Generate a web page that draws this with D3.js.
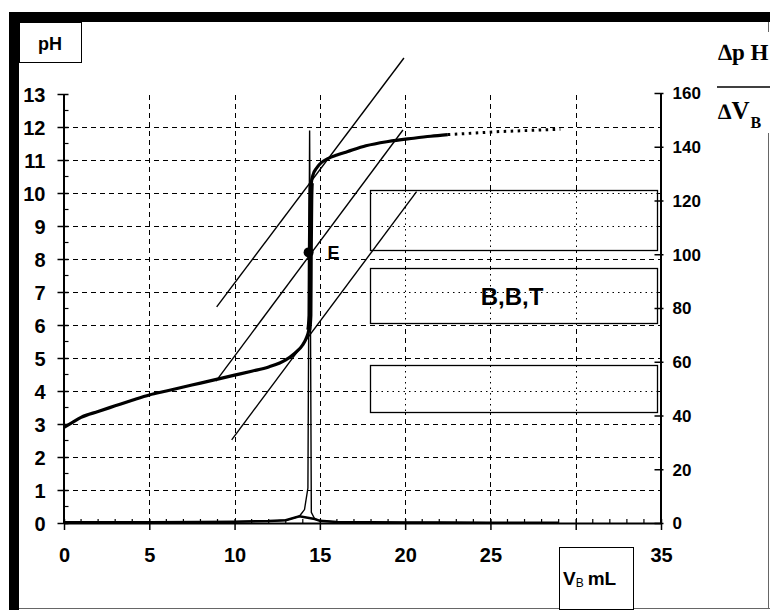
<!DOCTYPE html>
<html><head><meta charset="utf-8">
<script src="https://cdn.jsdelivr.net/npm/d3@7"></script>
<style>body{margin:0;background:#fff} svg{display:block}</style>
</head><body>
<script>
// ---------- data ----------
const volumes = [0,0.5,1,2,3,4,5,6,7,8,9,10,11,12,13,13.5,14,14.2,14.35,14.42,14.44,14.47,14.5,14.6,14.8,15,15.5,16,16.6,17.7,19,20.5,21.5,22.5,23.5,24.5,25.5,26.5,27.5,28.5,29.1];
const phValues = [2.9,3.05,3.2,3.38,3.55,3.72,3.88,4.0,4.12,4.24,4.36,4.48,4.6,4.73,4.94,5.13,5.4,5.6,5.85,6.3,8.2,9.8,10.3,10.55,10.75,10.88,11.05,11.15,11.25,11.43,11.56,11.66,11.72,11.77,11.8,11.83,11.86,11.88,11.9,11.92,11.93];
const derivVolumes = [0,2,5,8,10,12,13,13.8,14.1,14.3,14.4,14.5,14.7,15,16,18,20,22,25,29];
const derivValues  = [0.3,0.3,0.3,0.4,0.5,0.7,1.0,2.5,5,13,146,4,1.5,0.8,0.4,0.3,0.2,0.2,0.1,0.1];
const tangentLines = [
  [[8.95,6.55],[19.93,14.09]],
  [[8.91,4.30],[19.87,11.91]],
  [[9.83,2.52],[20.67,10.04]]
];
const equivalencePoint = [14.4, 8.2];
const equivalenceLabel = "E";
const xTickValues = [0,5,10,15,20,25,30,35];
const xGridValues = [5,10,15,20,25,30];
const phTickValues = [0,1,2,3,4,5,6,7,8,9,10,11,12,13];
const phGridValues = [1,2,3,4,5,6,7,8,9,10,11,12];
const derivTickValues = [0,20,40,60,80,100,120,140,160];
// annotation boxes in data units: [v0, v1, phTop, phBottom]
const boxRanges = [[17.95,34.75,10.09,8.27],[17.95,34.75,7.72,6.05],[17.95,34.75,4.79,3.37]];
const boxLabels = ["", "B,B,T", ""];

// ---------- layout ----------
const W = 770, H = 610;
const svg = d3.select("body").append("svg").attr("width", W).attr("height", H);
const x = d3.scaleLinear().domain([0,35]).range([64,661]);
const y = d3.scaleLinear().domain([0,13]).range([523,94]);
const y2 = d3.scaleLinear().domain([0,160]).range([523,93]);
const numFont = "'Liberation Sans', Arial, sans-serif";

// frame
svg.append("rect").attr("x",9).attr("y",12).attr("width",761).attr("height",10).attr("fill","#000");
svg.append("rect").attr("x",9).attr("y",12).attr("width",10).attr("height",598).attr("fill","#000");
svg.append("line").attr("x1",19).attr("x2",770).attr("y1",608.5).attr("y2",608.5).attr("stroke","#666");
svg.append("line").attr("x1",768.5).attr("x2",768.5).attr("y1",22).attr("y2",608).attr("stroke","#666");

// grid
const dash = "5,4";
const grid = svg.append("g").attr("stroke","#000").attr("stroke-width",1).attr("stroke-dasharray",dash);
grid.selectAll(".h").data(phGridValues).join("line")
  .attr("x1",x(0)).attr("x2",x(35)).attr("y1",d=>Math.round(y(d))+0.5).attr("y2",d=>Math.round(y(d))+0.5);
grid.selectAll(".v").data(xGridValues).join("line")
  .attr("y1",y(0)).attr("y2",y(13)).attr("x1",d=>Math.round(x(d))+0.5).attr("x2",d=>Math.round(x(d))+0.5);

// boxes
boxRanges.forEach((b,i)=>{
  const bx = Math.round(x(b[0]))+0.5, bx2 = Math.round(x(b[1]))+0.5;
  const by = Math.round(y(b[2]))+0.5, by2 = Math.round(y(b[3]))+0.5;
  const g = svg.append("g");
  g.append("rect").attr("x",bx).attr("y",by).attr("width",bx2-bx).attr("height",by2-by).attr("fill","#fff");
  const cid = "clip"+i;
  svg.append("clipPath").attr("id",cid).append("rect").attr("x",bx).attr("y",by).attr("width",bx2-bx).attr("height",by2-by);
  const dg = g.append("g").attr("clip-path",`url(#${cid})`).attr("stroke","#000").attr("stroke-width",1).attr("stroke-dasharray","1.5,4");
  dg.selectAll("line.h").data(phGridValues.filter(d=>d<=b[2]&&d>=b[3])).join("line")
    .attr("x1",bx).attr("x2",bx2).attr("y1",d=>Math.round(y(d))+0.5).attr("y2",d=>Math.round(y(d))+0.5);
  dg.selectAll("line.v").data(xGridValues.filter(d=>d>=b[0]&&d<=b[1])).join("line")
    .attr("y1",by).attr("y2",by2).attr("x1",d=>Math.round(x(d))+0.5).attr("x2",d=>Math.round(x(d))+0.5);
  g.append("rect").attr("x",bx).attr("y",by).attr("width",bx2-bx).attr("height",by2-by)
    .attr("fill","none").attr("stroke","#000").attr("stroke-width",1.3);
  if (boxLabels[i]) {
    g.append("text").attr("x",512).attr("y",(by+by2)/2+9).attr("text-anchor","middle")
      .attr("font-family",numFont).attr("font-weight","bold").attr("font-size",24).text(boxLabels[i]);
  }
});

// tangent lines
svg.append("g").selectAll("line").data(tangentLines).join("line")
  .attr("x1",d=>x(d[0][0])).attr("y1",d=>y(d[0][1])).attr("x2",d=>x(d[1][0])).attr("y2",d=>y(d[1][1]))
  .attr("stroke","#000").attr("stroke-width",1.4);

// derivative curve
const derivPts = derivVolumes.map((v,i)=>[v,derivValues[i]]);
svg.append("path").datum(derivPts)
  .attr("d", d3.line().x(d=>x(d[0])).y(d=>y2(d[1])))
  .attr("fill","none").attr("stroke","#000").attr("stroke-width",1.4);
svg.append("path").datum(derivPts.filter(d=>d[1]<3))
  .attr("d", d3.line().x(d=>x(d[0])).y(d=>y2(d[1])))
  .attr("fill","none").attr("stroke","#000").attr("stroke-width",2.5);

// pH curve
const phPts = volumes.map((v,i)=>[v,phValues[i]]);
const line = d3.line().x(d=>x(d[0])).y(d=>y(d[1])).curve(d3.curveMonotoneX);
svg.append("path").datum(phPts.filter(d=>d[0]<=22.5)).attr("d",line)
  .attr("fill","none").attr("stroke","#000").attr("stroke-width",3.2).attr("stroke-linejoin","round");
svg.append("path").datum(phPts.filter(d=>d[0]>=14.35&&d[0]<=14.5)).attr("d",line)
  .attr("fill","none").attr("stroke","#000").attr("stroke-width",5);
svg.append("path").datum(phPts.filter(d=>d[0]>=22.5)).attr("d",line)
  .attr("fill","none").attr("stroke","#000").attr("stroke-width",3).attr("stroke-dasharray","2.5,4.5");

// axes
const axL = svg.append("g").attr("transform",`translate(${x(0)-0.5},0)`)
  .call(d3.axisLeft(y).tickValues(phTickValues).tickSize(6).tickSizeOuter(0).tickPadding(12));
axL.select(".domain").attr("stroke-width",2);
axL.selectAll(".tick line").attr("x1",5).attr("x2",-6).attr("stroke-width",1.5);
axL.selectAll(".tick text").attr("x",-18).attr("font-family",numFont).attr("font-weight","bold").attr("font-size",20).attr("dy","0.35em");
axL.selectAll(".minor").data(d3.range(0.5,13,1)).join("line").attr("class","minor")
  .attr("x1",0).attr("x2",5).attr("y1",d=>y(d)).attr("y2",d=>y(d)).attr("stroke","#000").attr("stroke-width",1.2);

const axB = svg.append("g").attr("transform",`translate(0,${y(0)})`)
  .call(d3.axisBottom(x).tickValues(xTickValues).tickSize(7).tickSizeOuter(0));
axB.select(".domain").attr("stroke-width",2);
axB.selectAll(".tick line").attr("y1",-4).attr("y2",7).attr("stroke-width",1.5);
axB.selectAll(".tick text").attr("y",25).attr("dy","0.72em").attr("font-family",numFont).attr("font-weight","bold").attr("font-size",20);
axB.selectAll(".minor").data(d3.range(1,35).filter(d=>d%5)).join("line").attr("class","minor")
  .attr("x1",d=>x(d)).attr("x2",d=>x(d)).attr("y1",-4).attr("y2",0).attr("stroke","#000").attr("stroke-width",1.2);

const axR = svg.append("g").attr("transform",`translate(${x(35)-0.5},0)`)
  .call(d3.axisRight(y2).tickValues(derivTickValues).tickSize(3).tickSizeOuter(0).tickPadding(9));
axR.select(".domain").attr("stroke-width",2);
axR.selectAll(".tick line").attr("x1",-6).attr("x2",3).attr("stroke-width",1.5);
axR.selectAll(".tick text").attr("x",12).attr("font-family",numFont).attr("font-weight","bold").attr("font-size",17).attr("dy","0.35em");

svg.selectAll(".tick text").attr("fill","#000");
svg.selectAll(".domain, .tick line").attr("stroke","#000");

// equivalence point
svg.append("circle").attr("cx",x(equivalencePoint[0])-1).attr("cy",y(equivalencePoint[1])).attr("r",5).attr("fill","#000");
svg.append("text").attr("x",x(equivalencePoint[0])+18).attr("y",y(equivalencePoint[1])+7)
  .attr("font-family",numFont).attr("font-weight","bold").attr("font-size",18).text(equivalenceLabel);

// pH label box
svg.append("rect").attr("x",19.5).attr("y",22.5).attr("width",62).attr("height",40).attr("fill","#fff").attr("stroke","#000");
svg.append("text").attr("x",50).attr("y",50).attr("text-anchor","middle")
  .attr("font-family",numFont).attr("font-weight","bold").attr("font-size",18).text("pH");

// V_B mL box
svg.append("rect").attr("x",559.5).attr("y",547.5).attr("width",74).attr("height",62).attr("fill","#fff").attr("stroke","#000");
const vt = svg.append("text").attr("x",563).attr("y",585).attr("font-family",numFont).attr("font-weight","bold").attr("font-size",19);
vt.append("tspan").text("V");
vt.append("tspan").attr("font-size",12).attr("font-weight","normal").attr("dy",2).text("B");
vt.append("tspan").attr("dy",-2).attr("dx",4).text("mL");

// ΔpH/ΔV_B label
svg.append("rect").attr("x",712).attr("y",32).attr("width",58).attr("height",101).attr("fill","#fff");
const serif = "'Liberation Serif', 'Times New Roman', serif";
svg.append("text").attr("x",718).attr("y",60).attr("font-family",serif).attr("font-weight","bold").attr("font-size",23)
  .text("\u2206p H");
svg.append("line").attr("x1",717).attr("x2",770).attr("y1",87).attr("y2",87).attr("stroke","#000").attr("stroke-width",1.5);
const dv = svg.append("text").attr("x",718).attr("y",119).attr("font-family",serif).attr("font-weight","bold").attr("font-size",25);
dv.append("tspan").attr("font-size",22).text("\u2206");
dv.append("tspan").text("V");
dv.append("tspan").attr("font-size",16).attr("dy",9).attr("dx",1).text("B");
</script>
</body></html>
